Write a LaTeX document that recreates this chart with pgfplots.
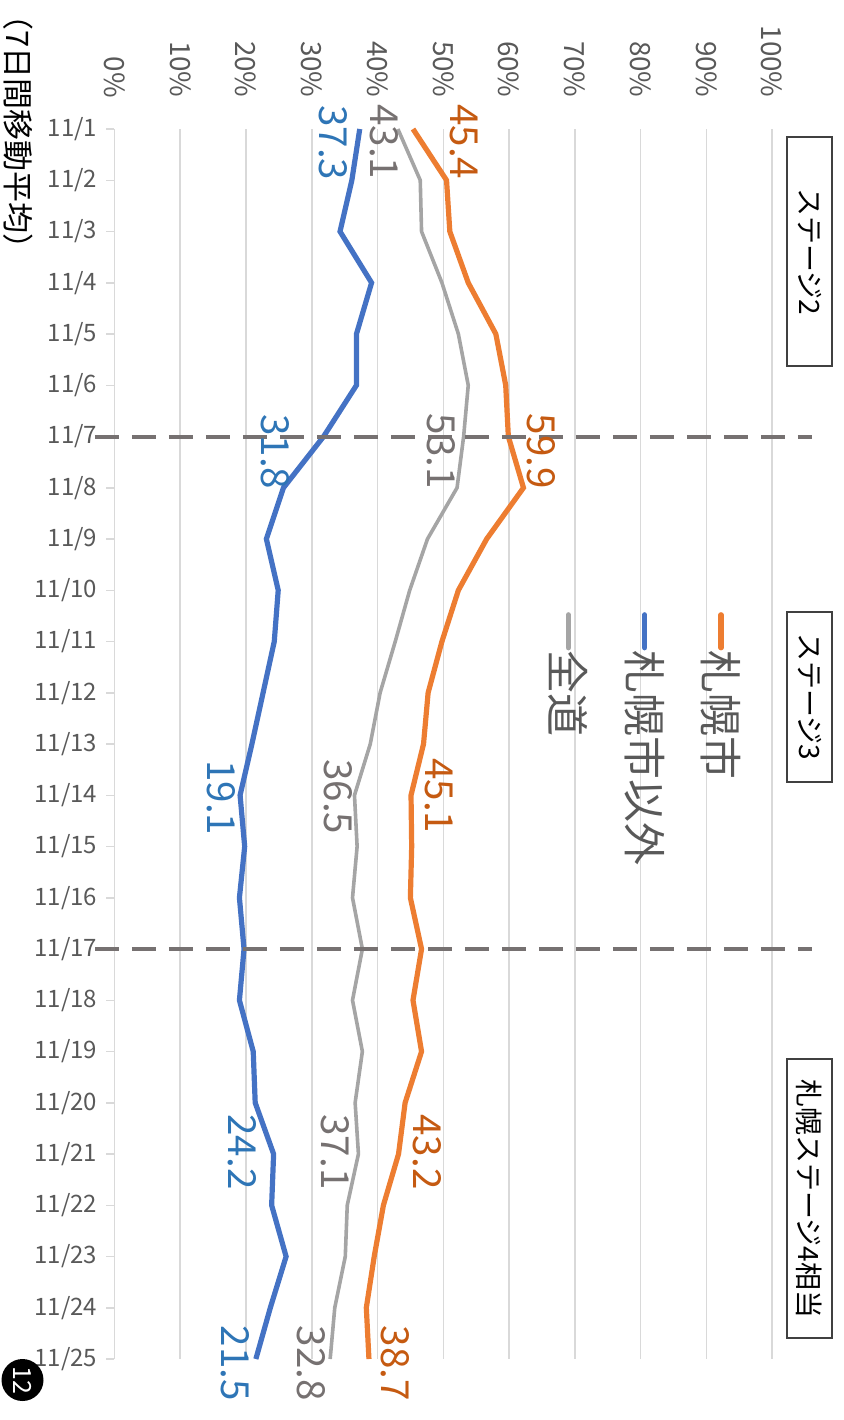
\documentclass[border=0pt]{standalone}
\usepackage{pgfplots}
\pgfplotsset{compat=1.18}
\usepackage{fontspec}
\setmainfont{Noto Sans CJK JP}

\definecolor{cOrange}{HTML}{ED7D31}
\definecolor{cBlue}{HTML}{4472C4}
\definecolor{cGray}{HTML}{A5A5A5}
\definecolor{lOrange}{HTML}{C55A11}
\definecolor{lBlue}{HTML}{2E75B6}
\definecolor{lGray}{HTML}{767171}
\definecolor{cGrid}{HTML}{D9D9D9}
\definecolor{cText}{HTML}{595959}
\definecolor{cDash}{HTML}{767171}
\definecolor{cBox}{HTML}{404040}

\newcommand{\fs}[1]{\fontsize{#1}{#1}\selectfont}

\begin{document}
\rotatebox{-90}{%
\begin{tikzpicture}[x=1pt,y=1pt]
\path[use as bounding box] (0,0) rectangle (710,421.5);
\begin{axis}[
  at={(64.5pt,57.25pt)}, anchor=south west,
  width=615pt, height=328.75pt, scale only axis,
  xmin=1, xmax=25, ymin=0, ymax=100,
  xtick={1,...,25},
  xticklabels={11/1,11/2,11/3,11/4,11/5,11/6,11/7,11/8,11/9,11/10,11/11,11/12,11/13,11/14,11/15,11/16,11/17,11/18,11/19,11/20,11/21,11/22,11/23,11/24,11/25},
  ytick={0,10,...,100},
  yticklabel={\pgfmathprintnumber{\tick}\%},
  /pgf/number format/assume math mode=true,
  ymajorgrids, grid style={draw=cGrid, line width=0.75pt},
  axis x line*=bottom, axis y line*=left,
  x axis line style={-, draw=cGrid, line width=0.75pt},
  y axis line style={draw=none},
  tick align=outside, major tick length=4pt,
  xtick style={draw=cGrid, line width=0.75pt},
  ytick style={draw=none},
  xticklabel style={rotate=90, anchor=east, inner sep=0pt, font=\fs{12}, text=cText},
  yticklabel style={anchor=east, inner sep=0pt, font=\fs{13.9}, text=cText},
  xticklabel shift=4.5pt,
  yticklabel shift=11.5pt,
  clip=false,
  legend style={at={(axis cs:10.42,95.3)}, anchor=north west, draw=none, fill=none,
    font=\fs{21.5}, text=cText, row sep=18.5pt, inner sep=0pt,
    nodes={inner sep=0pt}},
  legend cell align=left,
  legend image code/.code={\draw[#1, line cap=round, line width=2.6pt] (0pt,0pt) -- (16.5pt,0pt);},
]
\addplot[cOrange, line width=2.6pt] coordinates {
(1,45.4) (2,50.5) (3,51.0) (4,53.8) (5,58.0) (6,59.5) (7,59.9) (8,62.2) (9,56.6) (10,52.3)
(11,49.8) (12,47.7) (13,47.0) (14,45.1) (15,45.2) (16,45.0) (17,46.7) (18,45.4) (19,46.7) (20,44.2)
(21,43.2) (22,40.9) (23,39.5) (24,38.3) (25,38.7)};
\addlegendentry{札幌市}
\addplot[cBlue, line width=2.6pt] coordinates {
(1,37.3) (2,36.1) (3,34.3) (4,39.1) (5,36.8) (6,36.8) (7,31.8) (8,25.7) (9,23.1) (10,24.9)
(11,24.3) (12,22.6) (13,20.9) (14,19.1) (15,19.8) (16,19.0) (17,19.7) (18,19.0) (19,21.1) (20,21.4)
(21,24.2) (22,23.9) (23,26.1) (24,23.7) (25,21.5)};
\addlegendentry{札幌市以外}
\addplot[cGray, line width=1.8pt] coordinates {
(1,43.1) (2,46.5) (3,46.7) (4,49.8) (5,52.3) (6,53.8) (7,53.1) (8,52.1) (9,47.6) (10,44.9)
(11,42.7) (12,40.4) (13,38.9) (14,36.5) (15,36.9) (16,36.2) (17,37.7) (18,36.2) (19,37.7) (20,36.6)
(21,37.1) (22,35.4) (23,35.1) (24,33.5) (25,32.8)};
\addlegendentry{全道}

% stage boundaries
\draw[cDash, line width=2pt, dash pattern=on 12pt off 6.5pt] (axis cs:7,-2.97) -- (axis cs:7,106.1);
\draw[cDash, line width=2pt, dash pattern=on 12pt off 6.5pt] (axis cs:17,-2.97) -- (axis cs:17,106.1);

% data labels
\begin{scope}[every node/.style={font=\fs{19.3}, inner sep=0pt}]
\node[text=lOrange] at (axis cs:1.25,53.1) {45.4};
\node[text=lOrange] at (axis cs:7.29,64.9) {59.9};
\node[text=lOrange] at (axis cs:14.01,49.4) {45.1};
\node[text=lOrange] at (axis cs:20.96,47.5) {43.2};
\node[text=lOrange] at (axis cs:25.08,42.7) {38.7};
\node[text=lGray] at (axis cs:1.25,41.0) {43.1};
\node[text=lGray] at (axis cs:7.29,49.7) {53.1};
\node[text=lGray] at (axis cs:14.03,34.0) {36.5};
\node[text=lGray] at (axis cs:20.96,33.5) {37.1};
\node[text=lGray] at (axis cs:25.08,30.0) {32.8};
\node[text=lBlue] at (axis cs:1.27,33.2) {37.3};
\node[text=lBlue] at (axis cs:7.3,24.4) {31.8};
\node[text=lBlue] at (axis cs:14.05,16.2) {19.1};
\node[text=lBlue] at (axis cs:20.96,19.5) {24.2};
\node[text=lBlue] at (axis cs:25.08,18.3) {21.5};
\end{scope}
\end{axis}

% stage boxes
\begin{scope}[every node/.style={draw=cBox, line width=1pt, fill=white, font=\fs{14}, minimum height=22.5pt, inner sep=0pt}]
\node[minimum width=114.5pt] at (125.75,404.75) {ステージ2};
\node[minimum width=85pt] at (348.5,404.75) {ステージ3};
\node[minimum width=139.5pt] at (599.25,404.75) {札幌ステージ4相当};
\end{scope}

\node[font=\fs{15.5}, inner sep=0pt] at (66,9) {（7日間移動平均）};
\node[circle, fill=black, text=white, minimum size=21pt, inner sep=0pt, font=\fs{12.5}] at (690,11.25) {12};
\end{tikzpicture}}
\end{document}
